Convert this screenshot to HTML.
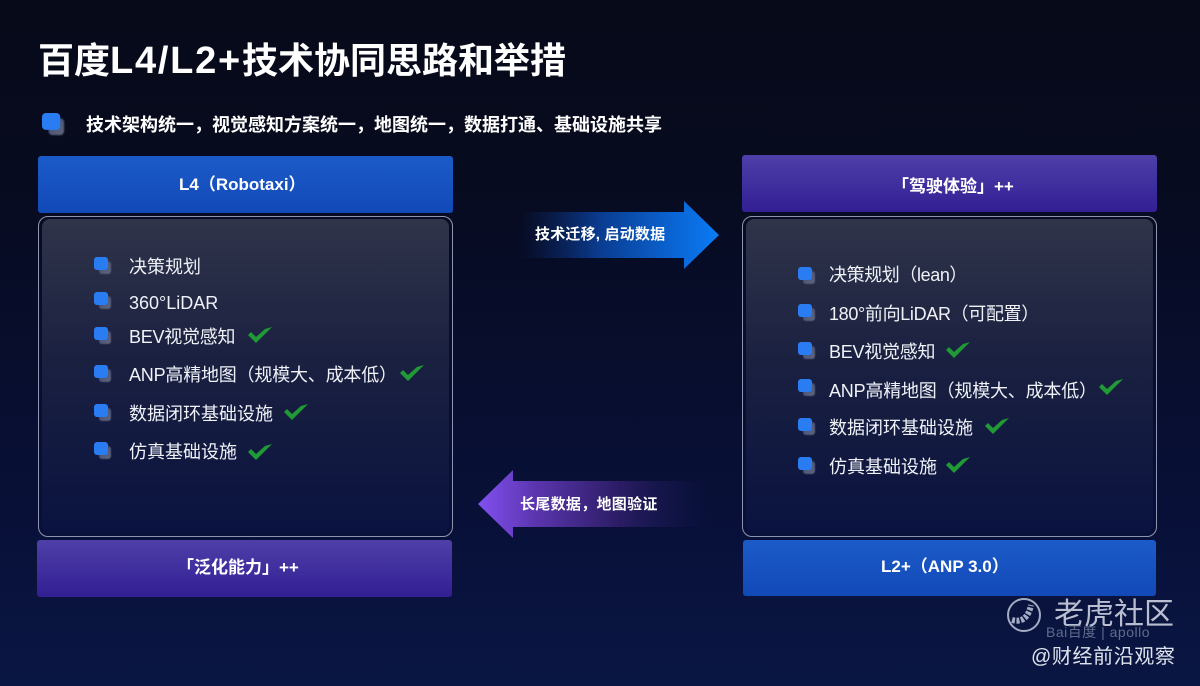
<!DOCTYPE html>
<html lang="zh"><head><meta charset="utf-8"><style>
*{margin:0;padding:0;box-sizing:border-box}
html,body{width:1200px;height:686px;overflow:hidden}
body{position:relative;background:linear-gradient(180deg,#070a18 0%,#070b1f 25%,#081038 75%,#0a1643 100%);font-family:"Liberation Sans","Noto Sans CJK SC",sans-serif;color:#fff}
.a{position:absolute;white-space:nowrap}
.bar{position:absolute;border-radius:3px}
.l{position:absolute;white-space:nowrap;font-weight:700;font-size:17px;line-height:24px;color:#fff}
.blue{background:linear-gradient(180deg,#1b5bc8,#1249b8)}
.pur{background:linear-gradient(180deg,#4e3fa8,#321f94)}
.panel{position:absolute;width:415px;height:321px;border:1px solid #8f95b0;border-radius:10px}
.panel:before{content:"";position:absolute;left:3px;right:3px;top:2px;bottom:3px;border-radius:8px;background:linear-gradient(180deg,#30344a 0%,#1a2040 45%,#0a1340 100%)}
.t{position:absolute;white-space:nowrap;font-size:18px;line-height:24px;color:#f0f2f8}
.b{position:absolute;width:17px;height:17px}
.b:before{content:"";position:absolute;left:5px;top:4px;width:12px;height:13px;border-radius:3px;background:linear-gradient(135deg,#3e4c7a,#62667a);filter:blur(.6px)}
.b:after{content:"";position:absolute;left:0;top:0;width:14px;height:13px;border-radius:3px;background:#2a7cf2}
svg{position:absolute;overflow:visible}
.ls{font-size:38px;letter-spacing:1.75px}
.n{letter-spacing:-.2px}
</style></head><body>
<div class="a" style="left:38px;top:37px;font-size:36px;line-height:48px;font-weight:700">百度<span class="ls">L4/L2+</span>技术协同思路和举措</div>
<div class="b" style="left:42px;top:113px;transform:scale(1.3);transform-origin:0 0"></div>
<div class="a" style="left:86px;top:113px;font-size:18px;line-height:24px;font-weight:700">技术架构统一，视觉感知方案统一，地图统一，数据打通、基础设施共享</div>

<div class="bar blue" style="left:38px;top:156px;width:415px;height:57px"></div>
<div class="l" style="left:179px;top:173px">L4（Robotaxi）</div>
<div class="panel" style="left:38px;top:216px"></div>
<div class="bar pur" style="left:37px;top:540px;width:415px;height:57px"></div>
<div class="l" style="left:177px;top:556px">「泛化能力」++</div>

<div class="bar pur" style="left:742px;top:155px;width:415px;height:57px"></div>
<div class="l" style="left:892px;top:175px">「驾驶体验」++</div>
<div class="panel" style="left:742px;top:216px"></div>
<div class="bar blue" style="left:743px;top:540px;width:413px;height:56px"></div>
<div class="l" style="left:881px;top:555px">L2+（ANP 3.0）</div>

<div class="b" style="left:94px;top:257px"></div><div class="t" style="left:129px;top:255px">决策规划</div>
<div class="b" style="left:94px;top:292px"></div><div class="t" style="left:129px;top:291px">360°LiDAR</div>
<div class="b" style="left:94px;top:327px"></div><div class="t" style="left:129px;top:325px;letter-spacing:-.25px">BEV视觉感知</div>
<div class="b" style="left:94px;top:365px"></div><div class="t n" style="left:129px;top:363px">ANP高精地图（规模大、成本低）</div>
<div class="b" style="left:94px;top:404px"></div><div class="t" style="left:129px;top:402px">数据闭环基础设施</div>
<div class="b" style="left:94px;top:442px"></div><div class="t" style="left:129px;top:440px">仿真基础设施</div>

<div class="b" style="left:798px;top:267px"></div><div class="t" style="left:829px;top:263px;letter-spacing:-.4px">决策规划（lean）</div>
<div class="b" style="left:798px;top:304px"></div><div class="t" style="left:829px;top:302px;letter-spacing:-.33px">180°前向LiDAR（可配置）</div>
<div class="b" style="left:798px;top:342px"></div><div class="t" style="left:829px;top:340px;letter-spacing:-.25px">BEV视觉感知</div>
<div class="b" style="left:798px;top:379px"></div><div class="t n" style="left:829px;top:379px">ANP高精地图（规模大、成本低）</div>
<div class="b" style="left:798px;top:418px"></div><div class="t" style="left:829px;top:416px">数据闭环基础设施</div>
<div class="b" style="left:798px;top:457px"></div><div class="t" style="left:829px;top:455px">仿真基础设施</div>

<svg style="left:0;top:0" width="1200" height="686" viewBox="0 0 1200 686">
<defs>
<linearGradient id="g1" x1="520" x2="719" y1="0" y2="0" gradientUnits="userSpaceOnUse"><stop offset="0" stop-color="#0a2a70" stop-opacity="0"/><stop offset="0.4" stop-color="#0a3c90"/><stop offset="0.75" stop-color="#0a62d0"/><stop offset="1" stop-color="#0a7cf5"/></linearGradient>
<linearGradient id="g2" x1="478" x2="710" y1="0" y2="0" gradientUnits="userSpaceOnUse"><stop offset="0" stop-color="#8250f0"/><stop offset="0.25" stop-color="#5a35ad"/><stop offset="0.6" stop-color="#2c1d66"/><stop offset="1" stop-color="#141650" stop-opacity="0"/></linearGradient>
<g id="c"><path d="M0 9 L8 17 L24 1 L17 3 L8 11 L3 6 Z" fill="#1f9a34"/></g>
</defs>
<path d="M520 212H684V201L719 235L684 269V258H520Z" fill="url(#g1)"/>
<path d="M478 504L513 470V481H710V527H513V538Z" fill="url(#g2)"/>
<use href="#c" x="248" y="326"/><use href="#c" x="400" y="364"/><use href="#c" x="284" y="403"/><use href="#c" x="248" y="443"/>
<use href="#c" x="946" y="341"/><use href="#c" x="1099" y="378"/><use href="#c" x="985" y="417"/><use href="#c" x="946" y="456"/>
<circle cx="1024" cy="615" r="16" fill="none" stroke="#a4acc4" stroke-width="2"/>
<path d="M1012 620 Q1027 624 1031 605" fill="none" stroke="#a4acc4" stroke-width="6" stroke-dasharray="3 1.5"/>
</svg>

<div class="a" style="left:535px;top:225px;font-size:15px;line-height:20px;font-weight:700;letter-spacing:.2px">技术迁移, 启动数据</div>
<div class="a" style="left:520px;top:495px;font-size:15px;line-height:20px;font-weight:700;letter-spacing:.3px">长尾数据，地图验证</div>

<div class="a" style="left:1054px;top:597px;font-size:30px;line-height:36px;color:#b9bfd0">老虎社区</div>
<div class="a" style="left:1046px;top:624px;font-size:14px;line-height:16px;color:#5f6b8c;letter-spacing:.5px">Bai百度 | apollo</div>
<div class="a" style="left:1031px;top:645px;font-size:20px;line-height:24px;color:#dfe3ee;letter-spacing:.6px">@财经前沿观察</div>
</body></html>
